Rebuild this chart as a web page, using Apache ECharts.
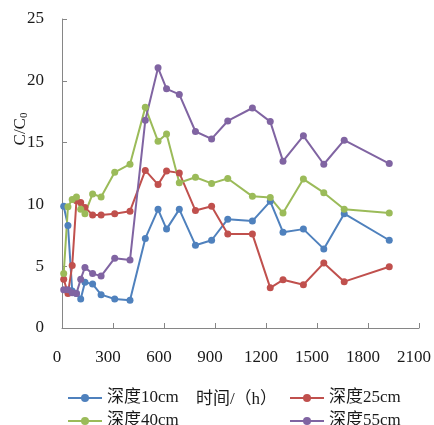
<!DOCTYPE html>
<html>
<head>
<meta charset="utf-8">
<style>
  html, body { margin: 0; padding: 0; background: #fff; }
  #chart { width: 434px; height: 425px; }
</style>
<script src="https://cdn.jsdelivr.net/npm/echarts@6/dist/echarts.min.js"></script>
</head>
<body>
<div id="chart"></div>
<script>
// Sampling times (h)
const times = [10, 35, 60, 85, 110, 135, 180, 230, 310, 400, 490, 565, 615, 690, 785, 880, 975, 1120, 1225, 1300, 1420, 1540, 1660, 1925];

// Relative concentration C/C0 at each depth
const depth10 = [9.85, 8.3, 3.0, 2.8, 2.35, 3.7, 3.55, 2.7, 2.35, 2.25, 7.25, 9.6, 8.0, 9.6, 6.7, 7.1, 8.8, 8.65, 10.25, 7.75, 8.0, 6.4, 9.25, 7.1];
const depth25 = [3.95, 2.8, 5.05, 10.3, 10.15, 9.75, 9.15, 9.15, 9.25, 9.45, 12.75, 11.6, 12.7, 12.55, 9.5, 9.85, 7.6, 7.6, 3.25, 3.9, 3.5, 5.25, 3.75, 4.95];
const depth40 = [4.4, 9.8, 10.4, 10.6, 9.6, 9.25, 10.85, 10.6, 12.6, 13.25, 17.85, 15.1, 15.7, 11.75, 12.2, 11.7, 12.1, 10.65, 10.55, 9.3, 12.05, 10.95, 9.6, 9.3];
const depth55 = [3.1, 3.1, 2.85, 2.8, 3.95, 4.9, 4.4, 4.2, 5.65, 5.5, 16.8, 21.05, 19.35, 18.9, 15.9, 15.3, 16.75, 17.8, 16.7, 13.5, 15.55, 13.25, 15.2, 13.3];

const seriesNames = ['深度10cm', '深度25cm', '深度40cm', '深度55cm'];
const seriesColors = ['#4F81BD', '#C0504D', '#9BBB59', '#8064A2'];
const seriesValues = [depth10, depth25, depth40, depth55];

const FONT = '"Liberation Serif", "Times New Roman", "Noto Sans CJK SC", serif';
const TEXT = '#1a1a1a';

const chart = echarts.init(document.getElementById('chart'), null, { renderer: 'canvas' });

const series = seriesNames.map((name, i) => ({
  name,
  type: 'line',
  data: times.map((t, k) => [t, seriesValues[i][k]]),
  symbol: 'circle',
  symbolSize: 7,
  lineStyle: { width: 2, color: seriesColors[i] },
  itemStyle: { color: seriesColors[i] },
  emphasis: { disabled: true },
  animation: false
}));

// One legend block per entry: two columns, two rows
const legendSlots = [
  { left: 67, top: 389 },   // 深度10cm
  { left: 289, top: 389 },  // 深度25cm
  { left: 67, top: 412 },   // 深度40cm
  { left: 289, top: 412 }   // 深度55cm
];
const legends = seriesNames.map((name, i) => ({
  left: legendSlots[i].left,
  top: legendSlots[i].top,
  data: [name],
  itemWidth: 34,
  itemHeight: 10,
  itemGap: 0,
  padding: 0,
  textStyle: { fontFamily: FONT, fontSize: 17, color: TEXT, lineHeight: 18 },
  selectedMode: false
}));

chart.setOption({
  backgroundColor: '#fff',
  grid: { left: 62, right: 13, top: 19, bottom: 97 },
  xAxis: {
    type: 'value',
    min: 0,
    max: 2100,
    interval: 300,
    name: '时间/（h）',
    nameLocation: 'middle',
    nameGap: 63,
    nameTextStyle: { fontFamily: FONT, fontSize: 17, color: TEXT, padding: [0, 8, 0, 0] },
    axisLine: { lineStyle: { color: '#868686', width: 1 } },
    axisTick: { show: true, inside: true, length: 5, lineStyle: { color: '#868686' } },
    axisLabel: {
      fontFamily: FONT, fontSize: 17, color: TEXT, margin: 21, padding: [0, 10, 0, 0],
      formatter: v => String(v)
    },
    splitLine: { show: false }
  },
  yAxis: {
    type: 'value',
    min: 0,
    max: 25,
    interval: 5,
    axisLine: { show: true, lineStyle: { color: '#868686', width: 1 } },
    axisTick: { show: true, inside: true, length: 5, lineStyle: { color: '#868686' } },
    axisLabel: { fontFamily: FONT, fontSize: 17, color: TEXT, margin: 18 },
    splitLine: { show: false }
  },
  legend: legends,
  graphic: [{
    type: 'text',
    x: 21,
    y: 129,
    rotation: Math.PI / 2,
    style: {
      text: '{m|C/C}{s|0}',
      align: 'center',
      verticalAlign: 'middle',
      fill: TEXT,
      rich: {
        m: { fontFamily: FONT, fontSize: 17, fill: TEXT },
        s: { fontFamily: FONT, fontSize: 11, fill: TEXT, verticalAlign: 'bottom', padding: [6, 0, 0, 0] }
      }
    }
  }],
  series
});
</script>
</body>
</html>
